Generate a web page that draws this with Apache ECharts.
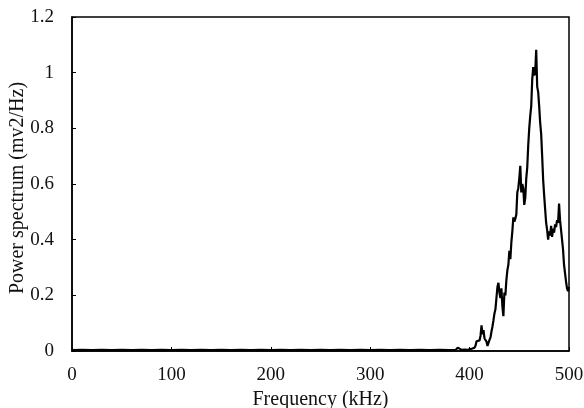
<!DOCTYPE html>
<html>
<head>
<meta charset="utf-8">
<script src="https://cdn.jsdelivr.net/npm/echarts@6/dist/echarts.min.js"></script>
<style>
  html, body { margin: 0; padding: 0; background: #fff; }
  #chart { width: 584px; height: 408px; }
</style>
</head>
<body>
<div id="chart"></div>
<script>
// Frequency (kHz) and power spectrum (mv2/Hz) samples
var frequency = [
  0, 10, 20, 30, 40, 50, 60, 70, 80, 90, 100, 110, 120, 130, 140, 150, 160, 170, 180, 190,
  200, 210, 220, 230, 240, 250, 260, 270, 280, 290, 300, 310, 320, 330, 340, 350, 360, 370, 380,
  386, 388, 389, 390, 392, 395, 398, 400, 402, 404, 405, 406, 407, 408, 409, 410,
  411, 412, 413, 414, 415, 416, 417, 418, 419, 420, 421, 422, 423, 424, 425, 426, 427, 428, 429, 430,
  431, 432, 433, 434, 435, 436, 437, 438, 439, 440, 441, 442, 443, 444, 445, 446, 447, 448, 449, 450,
  451, 452, 453, 454, 455, 456, 457, 458, 459, 460, 461, 462, 463, 464, 465, 466, 467, 468, 469, 470,
  471, 472, 473, 474, 475, 476, 477, 478, 479, 480, 481, 482, 483, 484, 485, 486, 487, 488, 489, 490,
  491, 492, 493, 494, 495, 496, 497, 498, 499, 500
];
var power = [
  0.003, 0.004, 0.003, 0.004, 0.003, 0.004, 0.003, 0.004, 0.003, 0.004, 0.003, 0.004, 0.003, 0.004, 0.003, 0.004, 0.003, 0.004, 0.003, 0.004,
  0.003, 0.004, 0.003, 0.004, 0.003, 0.004, 0.003, 0.004, 0.003, 0.004, 0.003, 0.004, 0.003, 0.004, 0.003, 0.004, 0.003, 0.004, 0.003,
  0.004, 0.012, 0.015, 0.006, 0.004, 0.005, 0.004, 0.006, 0.008, 0.005, 0.012, 0.02, 0.035, 0.028, 0.042, 0.038,
  0.055, 0.092, 0.06, 0.075, 0.045, 0.052, 0.034, 0.018, 0.012, 0.04, 0.048, 0.07, 0.088, 0.11, 0.135, 0.15, 0.19, 0.23, 0.245, 0.21,
  0.19, 0.225, 0.16, 0.125, 0.21, 0.2, 0.255, 0.29, 0.31, 0.36, 0.33, 0.39, 0.43, 0.48, 0.465, 0.475, 0.49, 0.57, 0.585, 0.62,
  0.665, 0.57, 0.6, 0.585, 0.525, 0.55, 0.62, 0.66, 0.74, 0.8, 0.845, 0.88, 0.975, 1.02, 0.99, 1.0, 1.082, 0.95, 0.93, 0.88,
  0.82, 0.78, 0.7, 0.615, 0.56, 0.51, 0.46, 0.435, 0.4, 0.43, 0.415, 0.45, 0.41, 0.44, 0.425, 0.455, 0.445, 0.47, 0.46, 0.53,
  0.47, 0.435, 0.4, 0.365, 0.31, 0.28, 0.25, 0.225, 0.215, 0.23
];

var FONT = '"Liberation Serif", "Times New Roman", serif';
var TICK_SIZE = 19;
var TITLE_SIZE = 20;

var chart = echarts.init(document.getElementById('chart'), null, { renderer: 'canvas' });
chart.setOption({
  animation: false,
  backgroundColor: '#ffffff',
  grid: {
    left: 72, top: 17, right: 15, bottom: 57,
    containLabel: false, outerBoundsMode: 'none',
    show: true, borderColor: '#000', borderWidth: 1.5, backgroundColor: 'transparent'
  },
  xAxis: {
    type: 'value', min: 0, max: 500, interval: 100,
    name: 'Frequency (kHz)', nameLocation: 'middle', nameGap: 39, nameMoveOverlap: false,
    nameTextStyle: { fontFamily: FONT, fontSize: TITLE_SIZE, color: '#111' },
    axisLine: { show: true, lineStyle: { color: '#000', width: 1.5 } },
    axisTick: { show: true, inside: true, length: 4, lineStyle: { color: '#000' } },
    axisLabel: { fontFamily: FONT, fontSize: TICK_SIZE, color: '#111', margin: 15 },
    splitLine: { show: false }
  },
  yAxis: {
    type: 'value', min: 0, max: 1.2, interval: 0.2,
    name: 'Power spectrum (mv2/Hz)', nameLocation: 'middle', nameGap: 44, nameMoveOverlap: false,
    nameTextStyle: { fontFamily: FONT, fontSize: TITLE_SIZE, color: '#111', padding: [0, 8, 0, 0] },
    axisLine: { show: true, lineStyle: { color: '#000', width: 1.5 } },
    axisTick: { show: true, inside: true, length: 4, lineStyle: { color: '#000' } },
    axisLabel: { fontFamily: FONT, fontSize: TICK_SIZE, color: '#111', margin: 18 },
    splitLine: { show: false }
  },
  series: [{
    type: 'line',
    data: frequency.map(function (f, i) { return [f, power[i]]; }),
    showSymbol: false,
    lineStyle: { color: '#000', width: 2.2 },
    clip: true
  }]
});
</script>
</body>
</html>
